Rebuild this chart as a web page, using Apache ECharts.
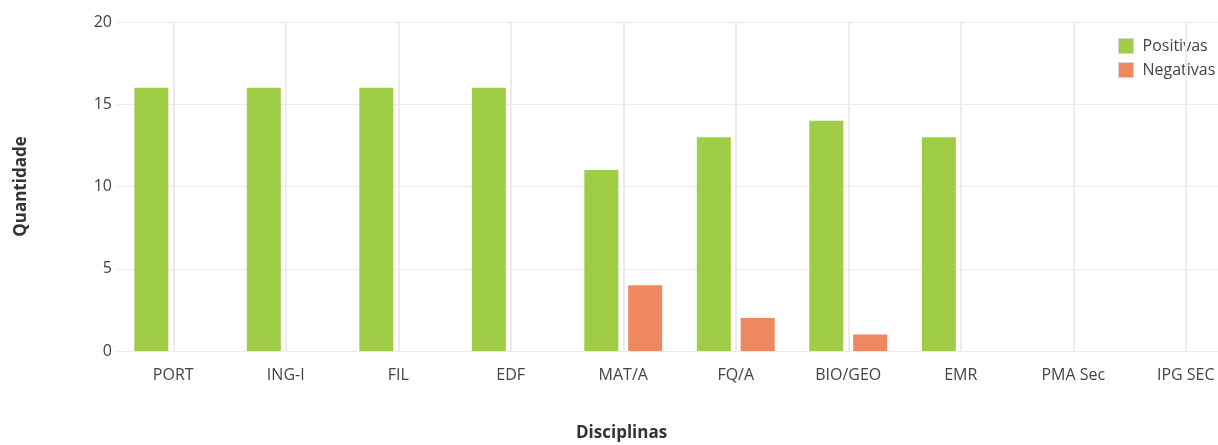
<html>
    <head>
        <meta charset="utf-8">
        <script src="https://cdn.jsdelivr.net/npm/echarts@6/dist/echarts.min.js"></script>
    </head>
    <body>
        <style>
            html, body {
                width: 100%;
                height: 100%;
                margin: 0;
                overflow: hidden;
                background: #fff;
            }
            /* the plot runs a little past the right edge of the window */
            #main {
                width: 1242px;
                height: 100%;
            }
        </style>
        <div id='main'></div>
        <script>
            var categories = ['PORT', 'ING-I', 'FIL', 'EDF', 'MAT/A', 'FQ/A', 'BIO/GEO', 'EMR', 'PMA Sec', 'IPG SEC'];
            var positivas = [16, 16, 16, 16, 11, 13, 14, 13, 0, 0];
            var negativas = [0, 0, 0, 0, 4, 2, 1, 0, 0, 0];
            var yTicks = [0, 5, 10, 15, 20];

            var font = 'Open Sans';
            var gridColor = '#ebebeb';

            var chart = echarts.init(document.getElementById('main'));

            // vertical grid lines sit on the category centres, not the boundaries
            var centreLines = categories.map(function (c) {
                return { xAxis: c };
            });

            var option = {
                animation: false,
                textStyle: { fontFamily: font },
                grid: {
                    left: 117,
                    right: 0,
                    top: 22,
                    bottom: 94,
                    outerBoundsMode: 'none',
                    containLabel: false
                },
                legend: {
                    orient: 'vertical',
                    left: 1113,
                    top: 33,
                    itemWidth: 15,
                    itemHeight: 15,
                    itemGap: 8,
                    icon: 'rect',
                    itemStyle: { borderColor: '#d6d6d6', borderWidth: 1 },
                    textStyle: { fontFamily: font, fontSize: 16, color: '#444', padding: [0, 0, 0, 4] },
                    data: ['Positivas', 'Negativas']
                },
                xAxis: {
                    type: 'category',
                    data: categories,
                    axisLine: { lineStyle: { color: gridColor, width: 1 } },
                    axisTick: { show: false },
                    axisLabel: { fontFamily: font, fontSize: 16, color: '#444', margin: 16 },
                    splitLine: { show: false }
                },
                yAxis: {
                    type: 'value',
                    min: yTicks[0],
                    max: yTicks[yTicks.length - 1],
                    interval: 5,
                    name: 'Quantidade',
                    nameLocation: 'middle',
                    nameGap: 87,
                    nameRotate: 90,
                    nameTextStyle: { fontFamily: font, fontSize: 17, fontWeight: 'bold', color: '#333' },
                    axisLine: { show: false },
                    axisTick: { show: false },
                    axisLabel: { fontFamily: font, fontSize: 16, color: '#444', margin: 5 },
                    splitLine: { lineStyle: { color: gridColor, width: 1 } }
                },
                graphic: [{
                    type: 'text',
                    left: 576,
                    top: 425,
                    style: {
                        text: 'Disciplinas',
                        font: 'bold 17px "Open Sans"',
                        fill: '#333'
                    }
                }],
                series: [{
                    name: 'Positivas',
                    type: 'bar',
                    data: positivas,
                    barWidth: 34,
                    barGap: '29%',
                    itemStyle: { color: '#a0cd46' }
                }, {
                    name: 'Negativas',
                    type: 'bar',
                    data: negativas,
                    barWidth: 34,
                    itemStyle: { color: '#ef8761' }
                }, {
                    name: 'grid',
                    type: 'line',
                    data: [],
                    silent: true,
                    z: 0,
                    markLine: {
                        silent: true,
                        symbol: 'none',
                        label: { show: false },
                        lineStyle: { color: gridColor, type: 'solid', width: 2 },
                        data: centreLines
                    }
                }]
            };

            chart.setOption(option);

            window.onresize = function () {
                chart.resize();
            }
        </script>
    </body>
</html>
